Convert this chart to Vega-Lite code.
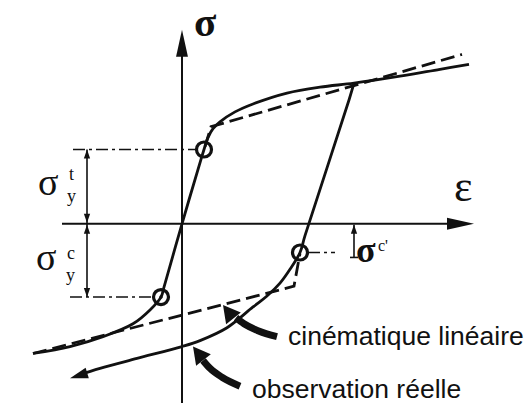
{
  "$schema": "https://vega.github.io/schema/vega-lite/v6.json",
  "width": 528,
  "height": 407,
  "padding": 0,
  "autosize": {"type": "fit", "contains": "padding"},
  "background": "white",
  "config": {"view": {"stroke": null}},
  "datasets": {
    "curves": [
      {"p": "A", "x": -149, "y": -131}, {"p": "A", "x": -112, "y": -124}, {"p": "A", "x": -79, "y": -114},
      {"p": "A", "x": -49, "y": -101}, {"p": "A", "x": -32, "y": -87}, {"p": "A", "x": -21, "y": -74},
      {"p": "A", "x": -18, "y": -64}, {"p": "A", "x": 0, "y": 0}, {"p": "A", "x": 19, "y": 65},
      {"p": "A", "x": 22, "y": 75}, {"p": "A", "x": 26, "y": 87}, {"p": "A", "x": 31, "y": 96},
      {"p": "A", "x": 38, "y": 103}, {"p": "A", "x": 53, "y": 113}, {"p": "A", "x": 71, "y": 121},
      {"p": "A", "x": 105, "y": 132}, {"p": "A", "x": 138, "y": 138}, {"p": "A", "x": 172, "y": 142},
      {"p": "A", "x": 218, "y": 149}, {"p": "A", "x": 258, "y": 156}, {"p": "A", "x": 287, "y": 161},
      {"p": "B", "x": -104, "y": -153}, {"p": "B", "x": -82, "y": -146}, {"p": "B", "x": -45, "y": -136},
      {"p": "B", "x": 0, "y": -124}, {"p": "B", "x": 18, "y": -118}, {"p": "B", "x": 45, "y": -105},
      {"p": "B", "x": 71, "y": -84}, {"p": "B", "x": 85, "y": -73}, {"p": "B", "x": 98, "y": -60},
      {"p": "B", "x": 108, "y": -46}, {"p": "B", "x": 118, "y": -29}, {"p": "B", "x": 123, "y": -12},
      {"p": "B", "x": 167, "y": 125}, {"p": "B", "x": 172, "y": 142},
      {"p": "C", "x": 23, "y": 78}, {"p": "C", "x": 29, "y": 98}, {"p": "C", "x": 280, "y": 171},
      {"p": "D", "x": -149, "y": -131}, {"p": "D", "x": 112, "y": -63}, {"p": "D", "x": 118, "y": -30},
      {"p": "axh", "x": -120, "y": 0}, {"p": "axh", "x": 282, "y": 0},
      {"p": "axv", "x": 0, "y": -181}, {"p": "axv", "x": 0, "y": 180},
      {"p": "dimv", "x": -95, "y": 75}, {"p": "dimv", "x": -95, "y": -74},
      {"p": "dimc", "x": 172, "y": -1}, {"p": "dimc", "x": 172, "y": -34},
      {"p": "tick", "x": 168, "y": -34}, {"p": "tick", "x": 176, "y": -34},
      {"p": "dd1", "x": -109, "y": 75}, {"p": "dd1", "x": 14, "y": 75},
      {"p": "dd2", "x": -112, "y": -74}, {"p": "dd2", "x": -29, "y": -74},
      {"p": "dd3", "x": 126, "y": -29}, {"p": "dd3", "x": 153, "y": -29},
      {"p": "p1", "x": 54, "y": -95}, {"p": "p1", "x": 62, "y": -101}, {"p": "p1", "x": 76, "y": -108}, {"p": "p1", "x": 95, "y": -114},
      {"p": "p2", "x": 21, "y": -138}, {"p": "p2", "x": 28, "y": -146}, {"p": "p2", "x": 40, "y": -155}, {"p": "p2", "x": 58, "y": -164}
    ],
    "marks": [
      {"k": "circle", "x": 22, "y": 75}, {"k": "circle", "x": -21, "y": -74}, {"k": "circle", "x": 118, "y": -29},
      {"k": "dot", "x": -21, "y": -74},
      {"k": "axUp", "x": 0, "y": 196},
      {"k": "axRight", "x": 292, "y": 0},
      {"k": "dimUp", "x": -95, "y": 75}, {"k": "dimUp", "x": -95, "y": -1}, {"k": "dimUp", "x": 172, "y": -1},
      {"k": "dimDown", "x": -95, "y": 1}, {"k": "dimDown", "x": -95, "y": -74},
      {"k": "endL", "x": -112, "y": -156},
      {"k": "ptr", "x": 41, "y": -82}, {"k": "ptr", "x": 11, "y": -124}
    ],
    "labels": [
      {"k": "bigsig", "x": 12, "y": 190, "t": "σ"},
      {"k": "eps", "x": 272, "y": 23, "t": "ε"},
      {"k": "sig", "x": -144, "y": 29, "t": "σ"}, {"k": "sig", "x": -146, "y": -47, "t": "σ"},
      {"k": "idx", "x": -113, "y": 44, "t": "t"}, {"k": "idx", "x": -115, "y": 22, "t": "y"},
      {"k": "idx", "x": -115, "y": -36, "t": "c"}, {"k": "idx", "x": -116, "y": -58, "t": "y"},
      {"k": "sigc", "x": 174, "y": -39, "t": "σ"}, {"k": "sup", "x": 196, "y": -27, "t": "c'"},
      {"k": "lab", "x": 106, "y": -122, "t": "cinématique linéaire"},
      {"k": "lab", "x": 70, "y": -176, "t": "observation réelle"}
    ]
  },
  "encoding": {
    "x": {"field": "x", "type": "quantitative", "scale": {"domain": [-182, 346], "nice": false, "zero": false}, "axis": null},
    "y": {"field": "y", "type": "quantitative", "scale": {"domain": [-181, 226], "nice": false, "zero": false}, "axis": null}
  },
  "layer": [
    {
      "data": {"name": "curves"},
      "transform": [{"filter": {"field": "p", "oneOf": ["axh", "axv"]}}],
      "mark": {"type": "line", "color": "#111", "strokeWidth": 2},
      "encoding": {"detail": {"field": "p"}}
    },
    {
      "data": {"name": "curves"},
      "transform": [{"filter": {"field": "p", "oneOf": ["dimv", "dimc", "tick"]}}],
      "mark": {"type": "line", "color": "#111", "strokeWidth": 1.6},
      "encoding": {"detail": {"field": "p"}}
    },
    {
      "data": {"name": "curves"},
      "transform": [{"filter": {"field": "p", "oneOf": ["dd1", "dd2", "dd3"]}}],
      "mark": {"type": "line", "color": "#111", "strokeWidth": 1.6, "strokeDash": [12, 4, 3, 4]},
      "encoding": {"detail": {"field": "p"}}
    },
    {
      "data": {"name": "curves"},
      "transform": [{"filter": {"field": "p", "oneOf": ["A", "B"]}}],
      "mark": {"type": "line", "color": "#111", "strokeWidth": 2.8, "interpolate": "catmull-rom"},
      "encoding": {"detail": {"field": "p"}}
    },
    {
      "data": {"name": "curves"},
      "transform": [{"filter": {"field": "p", "oneOf": ["C", "D"]}}],
      "mark": {"type": "line", "color": "#111", "strokeWidth": 2.8, "strokeDash": [14, 6]},
      "encoding": {"detail": {"field": "p"}}
    },
    {
      "data": {"name": "curves"},
      "transform": [{"filter": {"field": "p", "oneOf": ["p1", "p2"]}}],
      "mark": {"type": "line", "color": "#111", "strokeWidth": 7, "interpolate": "monotone", "strokeCap": "butt"},
      "encoding": {"detail": {"field": "p"}}
    },
    {
      "data": {"name": "marks"},
      "transform": [{"filter": "datum.k == 'circle'"}],
      "mark": {"type": "point", "shape": "circle", "filled": false, "color": "#111", "strokeWidth": 3.2, "size": 225, "opacity": 1}
    },
    {
      "data": {"name": "marks"},
      "transform": [{"filter": "datum.k == 'dot'"}],
      "mark": {"type": "point", "shape": "circle", "filled": true, "color": "#111", "size": 12, "opacity": 1}
    },
    {
      "data": {"name": "marks"},
      "transform": [{"filter": "datum.k == 'axUp'"}],
      "mark": {"type": "point", "shape": "M0,0L0.22,1L-0.22,1Z", "filled": true, "color": "#111", "size": 2916, "opacity": 1, "angle": 0}
    },
    {
      "data": {"name": "marks"},
      "transform": [{"filter": "datum.k == 'axRight'"}],
      "mark": {"type": "point", "shape": "M0,0L0.22,1L-0.22,1Z", "filled": true, "color": "#111", "size": 2916, "opacity": 1, "angle": 90}
    },
    {
      "data": {"name": "marks"},
      "transform": [{"filter": "datum.k == 'dimUp'"}],
      "mark": {"type": "point", "shape": "M0,0L0.35,1L-0.35,1Z", "filled": true, "color": "#111", "size": 324, "opacity": 1, "angle": 0}
    },
    {
      "data": {"name": "marks"},
      "transform": [{"filter": "datum.k == 'dimDown'"}],
      "mark": {"type": "point", "shape": "M0,0L0.35,1L-0.35,1Z", "filled": true, "color": "#111", "size": 324, "opacity": 1, "angle": 180}
    },
    {
      "data": {"name": "marks"},
      "transform": [{"filter": "datum.k == 'endL'"}],
      "mark": {"type": "point", "shape": "M0,0L0.3,1L-0.3,1Z", "filled": true, "color": "#111", "size": 1296, "opacity": 1, "angle": -107}
    },
    {
      "data": {"name": "marks"},
      "transform": [{"filter": "datum.k == 'ptr'"}],
      "mark": {"type": "point", "shape": "M0,0L0.55,1L-0.55,1Z", "filled": true, "color": "#111", "size": 1156, "opacity": 1, "angle": -38}
    },
    {
      "data": {"name": "labels"},
      "transform": [{"filter": "datum.k == 'bigsig'"}],
      "mark": {"type": "text", "font": "Liberation Serif", "fontWeight": "bold", "fontSize": 41, "align": "left", "baseline": "alphabetic", "color": "#111"},
      "encoding": {"text": {"field": "t"}}
    },
    {
      "data": {"name": "labels"},
      "transform": [{"filter": "datum.k == 'eps'"}],
      "mark": {"type": "text", "font": "Liberation Serif", "fontSize": 44, "align": "left", "baseline": "alphabetic", "color": "#111"},
      "encoding": {"text": {"field": "t"}}
    },
    {
      "data": {"name": "labels"},
      "transform": [{"filter": "datum.k == 'sig'"}],
      "mark": {"type": "text", "font": "Liberation Serif", "fontSize": 38, "align": "left", "baseline": "alphabetic", "color": "#111"},
      "encoding": {"text": {"field": "t"}}
    },
    {
      "data": {"name": "labels"},
      "transform": [{"filter": "datum.k == 'idx'"}],
      "mark": {"type": "text", "font": "Liberation Serif", "fontSize": 18, "align": "left", "baseline": "alphabetic", "color": "#111"},
      "encoding": {"text": {"field": "t"}}
    },
    {
      "data": {"name": "labels"},
      "transform": [{"filter": "datum.k == 'sigc'"}],
      "mark": {"type": "text", "font": "Liberation Serif", "fontWeight": "bold", "fontSize": 36, "align": "left", "baseline": "alphabetic", "color": "#111"},
      "encoding": {"text": {"field": "t"}}
    },
    {
      "data": {"name": "labels"},
      "transform": [{"filter": "datum.k == 'sup'"}],
      "mark": {"type": "text", "font": "Liberation Serif", "fontSize": 16, "align": "left", "baseline": "alphabetic", "color": "#111"},
      "encoding": {"text": {"field": "t"}}
    },
    {
      "data": {"name": "labels"},
      "transform": [{"filter": "datum.k == 'lab'"}],
      "mark": {"type": "text", "font": "Liberation Sans", "fontSize": 26.5, "align": "left", "baseline": "alphabetic", "color": "#111"},
      "encoding": {"text": {"field": "t"}}
    }
  ]
}
